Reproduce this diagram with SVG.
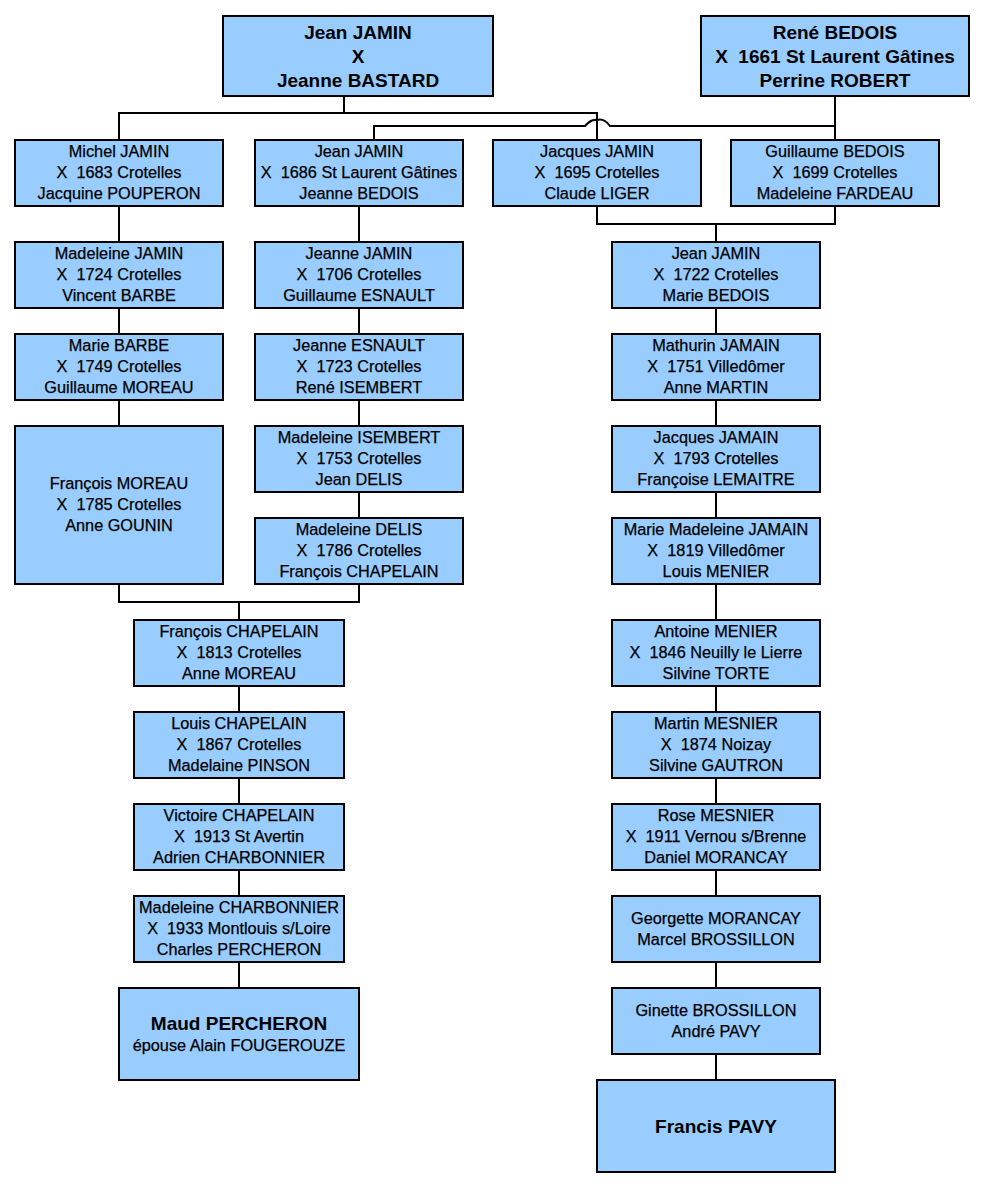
<svg xmlns="http://www.w3.org/2000/svg" width="985" height="1189" viewBox="0 0 985 1189" xml:space="preserve">
<style>
.bg{fill:#ffffff}
.box{fill:#99CCFF;stroke:#000;stroke-width:2}
text{white-space:pre}
.t{font-family:"Liberation Sans",Arial,sans-serif;font-size:16.3px;fill:#000;stroke:#000;stroke-width:0.25;text-anchor:middle}
.b{font-family:"Liberation Sans",Arial,sans-serif;font-size:19px;font-weight:bold;fill:#000;text-anchor:middle}
.c{fill:none;stroke:#000;stroke-width:2}
</style>
<rect class="bg" x="0" y="0" width="985" height="1189"/>
<g id="connectors">
<path class="c" d="M344,96 V113 M119,140 V113 H597 V140"/>
<path class="c" d="M835,96 V140 M835,126 H610 Q604,118 597,120 Q591,119 585,126 H374 V140"/>
<path class="c" d="M119,206 V242 M119,308 V334 M119,400 V426"/>
<path class="c" d="M359,206 V242 M359,308 V334 M359,400 V426 M359,492 V518"/>
<path class="c" d="M119,584 V602 H359 V584 M239,602 V620"/>
<path class="c" d="M239,686 V712 M239,778 V804 M239,870 V896 M239,962 V988"/>
<path class="c" d="M597,206 V224 H835 V206 M716,224 V242"/>
<path class="c" d="M716,308 V334 M716,400 V426 M716,492 V518 M716,584 V620 M716,686 V712 M716,778 V804 M716,870 V896 M716,962 V988 M716,1054 V1080"/>
</g>
<g id="n_jean_jamin_bastard"><rect class="box" x="223" y="16" width="270" height="80"/>
<text class="b" x="358" y="39">Jean JAMIN</text><text class="b" x="358" y="63">X</text><text class="b" x="358" y="87">Jeanne BASTARD</text></g>
<g id="n_rene_bedois"><rect class="box" x="701" y="16" width="268" height="80"/>
<text class="b" x="835" y="39">René BEDOIS</text><text class="b" x="835" y="63">X  1661 St Laurent Gâtines</text><text class="b" x="835" y="87">Perrine ROBERT</text></g>

<g id="n_michel_jamin"><rect class="box" x="15" y="140" width="208" height="66"/>
<text class="t" x="119" y="157">Michel JAMIN</text><text class="t" x="119" y="178">X  1683 Crotelles</text><text class="t" x="119" y="199">Jacquine POUPERON</text></g>
<g id="n_jean_jamin_1686"><rect class="box" x="255" y="140" width="208" height="66"/>
<text class="t" x="359" y="157">Jean JAMIN</text><text class="t" x="359" y="178">X  1686 St Laurent Gâtines</text><text class="t" x="359" y="199">Jeanne BEDOIS</text></g>
<g id="n_jacques_jamin"><rect class="box" x="493" y="140" width="208" height="66"/>
<text class="t" x="597" y="157">Jacques JAMIN</text><text class="t" x="597" y="178">X  1695 Crotelles</text><text class="t" x="597" y="199">Claude LIGER</text></g>
<g id="n_guillaume_bedois"><rect class="box" x="731" y="140" width="208" height="66"/>
<text class="t" x="835" y="157">Guillaume BEDOIS</text><text class="t" x="835" y="178">X  1699 Crotelles</text><text class="t" x="835" y="199">Madeleine FARDEAU</text></g>

<g id="n_madeleine_jamin"><rect class="box" x="15" y="242" width="208" height="66"/>
<text class="t" x="119" y="259">Madeleine JAMIN</text><text class="t" x="119" y="280">X  1724 Crotelles</text><text class="t" x="119" y="301">Vincent BARBE</text></g>
<g id="n_jeanne_jamin"><rect class="box" x="255" y="242" width="208" height="66"/>
<text class="t" x="359" y="259">Jeanne JAMIN</text><text class="t" x="359" y="280">X  1706 Crotelles</text><text class="t" x="359" y="301">Guillaume ESNAULT</text></g>
<g id="n_jean_jamin_1722"><rect class="box" x="612" y="242" width="208" height="66"/>
<text class="t" x="716" y="259">Jean JAMIN</text><text class="t" x="716" y="280">X  1722 Crotelles</text><text class="t" x="716" y="301">Marie BEDOIS</text></g>

<g id="n_marie_barbe"><rect class="box" x="15" y="334" width="208" height="66"/>
<text class="t" x="119" y="351">Marie BARBE</text><text class="t" x="119" y="372">X  1749 Crotelles</text><text class="t" x="119" y="393">Guillaume MOREAU</text></g>
<g id="n_jeanne_esnault"><rect class="box" x="255" y="334" width="208" height="66"/>
<text class="t" x="359" y="351">Jeanne ESNAULT</text><text class="t" x="359" y="372">X  1723 Crotelles</text><text class="t" x="359" y="393">René ISEMBERT</text></g>
<g id="n_mathurin_jamain"><rect class="box" x="612" y="334" width="208" height="66"/>
<text class="t" x="716" y="351">Mathurin JAMAIN</text><text class="t" x="716" y="372">X  1751 Villedômer</text><text class="t" x="716" y="393">Anne MARTIN</text></g>

<g id="n_francois_moreau"><rect class="box" x="15" y="426" width="208" height="158"/>
<text class="t" x="119" y="489">François MOREAU</text><text class="t" x="119" y="510">X  1785 Crotelles</text><text class="t" x="119" y="531">Anne GOUNIN</text></g>
<g id="n_madeleine_isembert"><rect class="box" x="255" y="426" width="208" height="66"/>
<text class="t" x="359" y="443">Madeleine ISEMBERT</text><text class="t" x="359" y="464">X  1753 Crotelles</text><text class="t" x="359" y="485">Jean DELIS</text></g>
<g id="n_jacques_jamain"><rect class="box" x="612" y="426" width="208" height="66"/>
<text class="t" x="716" y="443">Jacques JAMAIN</text><text class="t" x="716" y="464">X  1793 Crotelles</text><text class="t" x="716" y="485">Françoise LEMAITRE</text></g>

<g id="n_madeleine_delis"><rect class="box" x="255" y="518" width="208" height="66"/>
<text class="t" x="359" y="535">Madeleine DELIS</text><text class="t" x="359" y="556">X  1786 Crotelles</text><text class="t" x="359" y="577">François CHAPELAIN</text></g>
<g id="n_marie_madeleine_jamain"><rect class="box" x="612" y="518" width="208" height="66"/>
<text class="t" x="716" y="535">Marie Madeleine JAMAIN</text><text class="t" x="716" y="556">X  1819 Villedômer</text><text class="t" x="716" y="577">Louis MENIER</text></g>

<g id="n_francois_chapelain"><rect class="box" x="134" y="620" width="210" height="66"/>
<text class="t" x="239" y="637">François CHAPELAIN</text><text class="t" x="239" y="658">X  1813 Crotelles</text><text class="t" x="239" y="679">Anne MOREAU</text></g>
<g id="n_antoine_menier"><rect class="box" x="612" y="620" width="208" height="66"/>
<text class="t" x="716" y="637">Antoine MENIER</text><text class="t" x="716" y="658">X  1846 Neuilly le Lierre</text><text class="t" x="716" y="679">Silvine TORTE</text></g>

<g id="n_louis_chapelain"><rect class="box" x="134" y="712" width="210" height="66"/>
<text class="t" x="239" y="729">Louis CHAPELAIN</text><text class="t" x="239" y="750">X  1867 Crotelles</text><text class="t" x="239" y="771">Madelaine PINSON</text></g>
<g id="n_martin_mesnier"><rect class="box" x="612" y="712" width="208" height="66"/>
<text class="t" x="716" y="729">Martin MESNIER</text><text class="t" x="716" y="750">X  1874 Noizay</text><text class="t" x="716" y="771">Silvine GAUTRON</text></g>

<g id="n_victoire_chapelain"><rect class="box" x="134" y="804" width="210" height="66"/>
<text class="t" x="239" y="821">Victoire CHAPELAIN</text><text class="t" x="239" y="842">X  1913 St Avertin</text><text class="t" x="239" y="863">Adrien CHARBONNIER</text></g>
<g id="n_rose_mesnier"><rect class="box" x="612" y="804" width="208" height="66"/>
<text class="t" x="716" y="821">Rose MESNIER</text><text class="t" x="716" y="842">X  1911 Vernou s/Brenne</text><text class="t" x="716" y="863">Daniel MORANCAY</text></g>

<g id="n_madeleine_charbonnier"><rect class="box" x="134" y="896" width="210" height="66"/>
<text class="t" x="239" y="913">Madeleine CHARBONNIER</text><text class="t" x="239" y="934">X  1933 Montlouis s/Loire</text><text class="t" x="239" y="955">Charles PERCHERON</text></g>
<g id="n_georgette_morancay"><rect class="box" x="612" y="896" width="208" height="66"/>
<text class="t" x="716" y="924">Georgette MORANCAY</text><text class="t" x="716" y="945">Marcel BROSSILLON</text></g>

<g id="n_maud_percheron"><rect class="box" x="119" y="988" width="240" height="92"/>
<text class="b" x="239" y="1030">Maud PERCHERON</text><text class="t" x="239" y="1051">épouse Alain FOUGEROUZE</text></g>
<g id="n_ginette_brossillon"><rect class="box" x="612" y="988" width="208" height="66"/>
<text class="t" x="716" y="1016">Ginette BROSSILLON</text><text class="t" x="716" y="1037">André PAVY</text></g>

<g id="n_francis_pavy"><rect class="box" x="597" y="1080" width="238" height="92"/>
<text class="b" x="716" y="1133">Francis PAVY</text></g>
</svg>
